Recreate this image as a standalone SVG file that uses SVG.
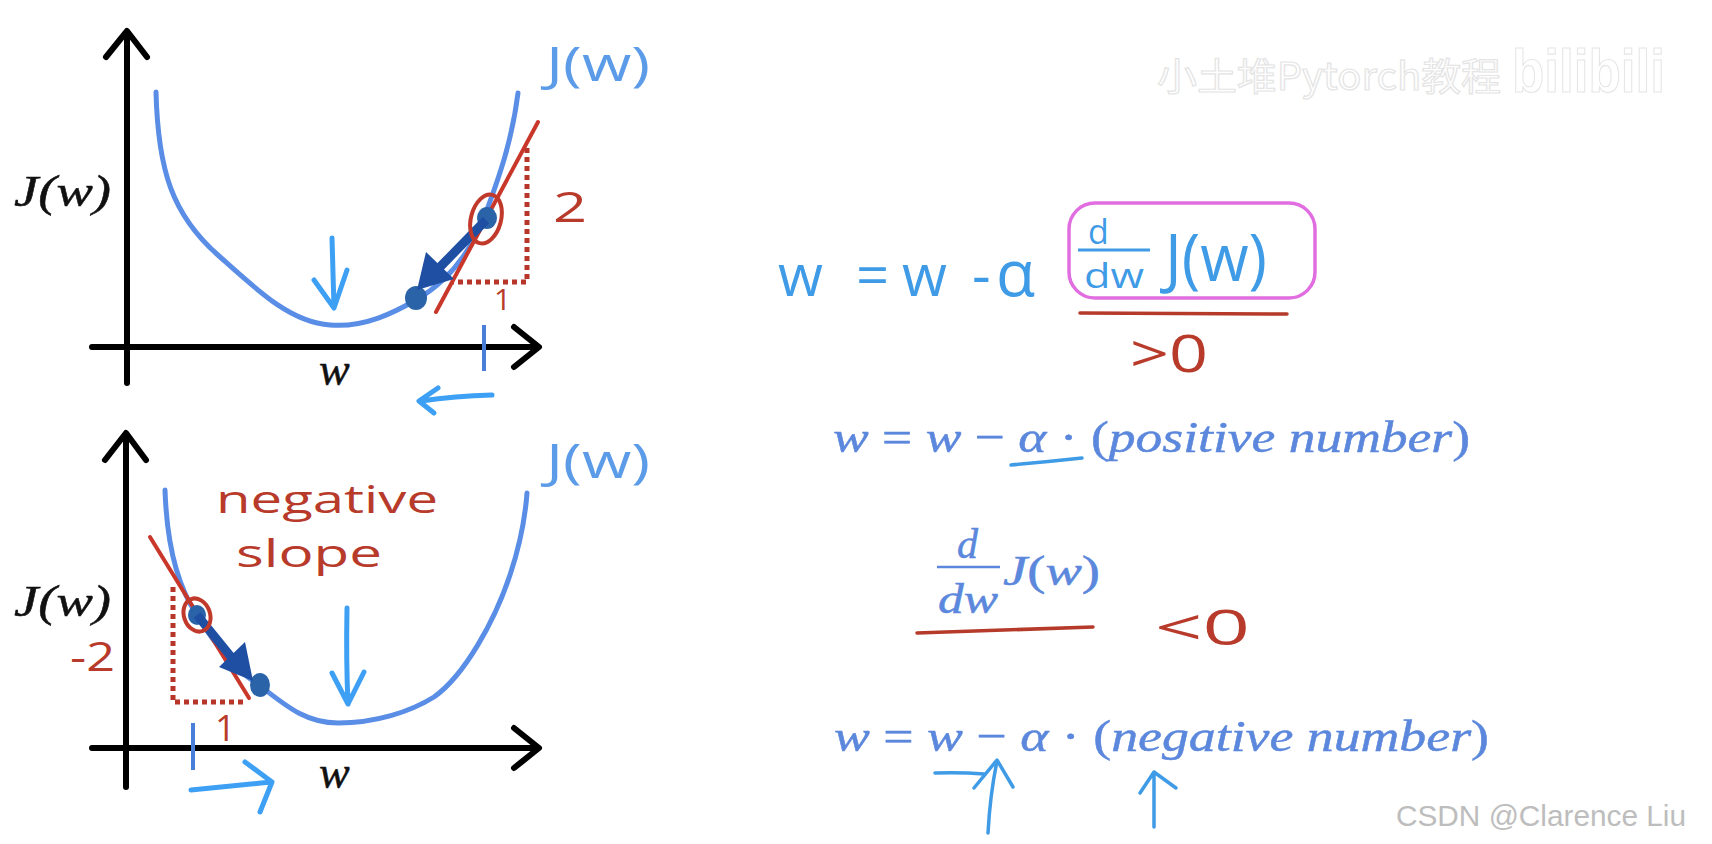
<svg xmlns="http://www.w3.org/2000/svg" width="1712" height="844" viewBox="0 0 1712 844">
<defs>
<style>
.axis{fill:none;stroke:#000;stroke-width:6;stroke-linecap:round;stroke-linejoin:round}
.curve{fill:none;stroke:#5a8de6;stroke-width:5;stroke-linecap:round}
.tan{fill:none;stroke:#c9372a;stroke-width:4;stroke-linecap:round}
.dot{fill:none;stroke:#b8352a;stroke-width:5;stroke-dasharray:5 4}
.ring{fill:none;stroke:#c0392b;stroke-width:4}
.pt{fill:#2b63a8}
.big{stroke:#1f4fa3;stroke-width:9;stroke-linecap:butt;fill:none}
.bighead{fill:#1f4fa3}
.lb{fill:none;stroke:#3ea0f4;stroke-width:5;stroke-linecap:round;stroke-linejoin:round}
.tick{stroke:#4a7fd9;stroke-width:4}
.hw{font-family:"Open Sans","DejaVu Sans",sans-serif}
.bluehw{fill:#5b9be8}
.redhw{fill:#b83a2a}
.math{font-family:"Liberation Serif",serif;font-style:italic;fill:#111;stroke:#111;stroke-width:0.5}
.tm{font-family:"Liberation Serif",serif;fill:#5b87dc;stroke:#5b87dc;stroke-width:0.5}
.fb{fill:#3f9be6}
.pen{fill:none;stroke:#3f9be6;stroke-width:3.5;stroke-linecap:round;stroke-linejoin:round}
.redline{fill:none;stroke:#b53a2a;stroke-width:3.5;stroke-linecap:round}
</style>
</defs>
<rect width="1712" height="844" fill="#ffffff"/>

<!-- watermark -->
<g id="watermark">
<text x="1157" y="90" font-family="'Noto Sans CJK SC',sans-serif" font-size="38" fill="#ffffff" stroke="#e4e4e4" stroke-width="1.2" textLength="344" lengthAdjust="spacingAndGlyphs">小土堆Pytorch教程</text>
<text x="1512" y="92" font-family="'Liberation Sans',sans-serif" font-weight="bold" font-size="62" fill="#ffffff" stroke="#e6e6e6" stroke-width="1.2" textLength="153" lengthAdjust="spacingAndGlyphs">bilibili</text>
<text x="1396" y="826" font-family="'Liberation Sans',sans-serif" font-size="30" fill="#bdbdbd" textLength="290" lengthAdjust="spacingAndGlyphs">CSDN @Clarence Liu</text>
</g>

<!-- top graph -->
<g id="top-graph">
<path class="axis" d="M127,383 L127,32 M106,57 L127,31 L147,57"/>
<path class="axis" d="M92,347 L538,347 M514,327 L539,347 L514,367"/>
<path class="curve" d="M156,92 C158,170 172,215 219,256 C257,290 290,322 330,325 C365,328 395,312 416,300 C445,283 470,255 485,215 C500,175 512,140 518,93"/>
<line class="tick" x1="484" y1="325" x2="484" y2="371"/>
<path class="dot" d="M527,148 L527,282 L453,282"/>
<line class="tan" x1="436" y1="312" x2="538" y2="122"/>
<ellipse class="pt" cx="416" cy="298" rx="11" ry="12"/>
<ellipse class="pt" cx="487" cy="218" rx="10" ry="11"/>
<line class="big" x1="486" y1="220" x2="440" y2="267"/>
<polygon class="bighead" points="417,290 426,252 454,279"/>
<ellipse class="ring" cx="486" cy="219" rx="15" ry="25" transform="rotate(15 486 219)"/>
<path class="lb" d="M332,238 Q333,275 334,308 M314,280 L334,308 L347,270"/>
<path class="lb" d="M492,395 Q455,396 421,401 M438,388 L419,401 L434,413"/>
<text class="hw redhw" x="553" y="222" font-size="42" textLength="34" lengthAdjust="spacingAndGlyphs">2</text>
<text class="hw redhw" x="494" y="310" font-size="30">1</text>
<text class="hw bluehw" x="546" y="81" font-size="48" textLength="104" lengthAdjust="spacingAndGlyphs">J(w)</text>
<text class="math" x="14" y="206" font-size="44" textLength="97" lengthAdjust="spacingAndGlyphs">J(w)</text>
<text class="math" x="319" y="385" font-size="46">w</text>
</g>

<!-- bottom graph -->
<g id="bottom-graph">
<path class="axis" d="M126,787 L126,434 M105,460 L126,433 L146,460"/>
<path class="axis" d="M92,748 L538,748 M514,728 L539,748 L514,768"/>
<path class="curve" d="M165,490 C167,550 180,590 197,615 C215,645 235,670 259,685 C285,705 305,723 338,723 C375,723 410,712 434,697 C465,675 495,620 510,575 C520,545 525,520 527,493"/>
<line class="tick" x1="193" y1="723" x2="193" y2="770"/>
<path class="dot" d="M173,587 L173,702 L247,702"/>
<line class="tan" x1="150" y1="537" x2="249" y2="698"/>
<ellipse class="pt" cx="197" cy="615" rx="9" ry="10"/>
<ellipse class="pt" cx="260" cy="685" rx="10" ry="12"/>
<line class="big" x1="197" y1="615" x2="232" y2="658"/>
<polygon class="bighead" points="253,681 219,667 245,642"/>
<ellipse class="ring" cx="197" cy="615" rx="13" ry="17" transform="rotate(-20 197 615)"/>
<path class="lb" d="M347,608 Q346,660 348,704 M332,673 L348,704 L364,672"/>
<path class="lb" d="M191,790 Q230,786 271,782 M245,762 L272,782 L260,812"/>
<text class="hw redhw" x="70" y="671" font-size="40" textLength="45" lengthAdjust="spacingAndGlyphs">-2</text>
<text class="hw redhw" x="215" y="741" font-size="36">1</text>
<text class="hw redhw" x="216" y="513" font-size="39" textLength="222" lengthAdjust="spacingAndGlyphs">negative</text>
<text class="hw redhw" x="236" y="567" font-size="39" textLength="146" lengthAdjust="spacingAndGlyphs">slope</text>
<text class="hw bluehw" x="546" y="478" font-size="48" textLength="104" lengthAdjust="spacingAndGlyphs">J(w)</text>
<text class="math" x="14" y="616" font-size="44" textLength="97" lengthAdjust="spacingAndGlyphs">J(w)</text>
<text class="math" x="319" y="788" font-size="46">w</text>
</g>

<!-- handwritten update rule -->
<g id="update-rule">
<text class="hw fb" y="296" font-size="58"><tspan x="778">w</tspan><tspan x="856">=</tspan><tspan x="902">w</tspan><tspan x="972">-</tspan><tspan x="996" font-size="64">α</tspan></text>
<rect x="1069" y="203" width="246" height="95" rx="26" fill="none" stroke="#e06ee0" stroke-width="3.5"/>
<text class="hw fb" x="1088" y="244" font-size="34">d</text>
<line x1="1078" y1="250" x2="1150" y2="250" stroke="#3f9be6" stroke-width="3"/>
<text class="hw fb" x="1084" y="288" font-size="34" textLength="60" lengthAdjust="spacingAndGlyphs">dw</text>
<text class="hw fb" x="1165" y="281" font-size="66" textLength="102" lengthAdjust="spacingAndGlyphs">J(w)</text>
<path class="redline" d="M1080,313 L1287,314"/>
<text class="hw redhw" x="1130" y="372" font-size="52" textLength="78" lengthAdjust="spacingAndGlyphs">&gt;0</text>
</g>

<!-- positive case -->
<g id="positive-case">
<text class="tm" x="833" y="452" font-size="45" textLength="637" lengthAdjust="spacingAndGlyphs"><tspan font-style="italic">w</tspan> = <tspan font-style="italic">w</tspan> − <tspan font-style="italic">α</tspan> · (<tspan font-style="italic">positive number</tspan>)</text>
<path class="pen" d="M1011,465 Q1045,462 1082,458"/>
</g>

<!-- derivative negative -->
<g id="derivative-negative">
<text class="tm" x="957" y="558" font-size="42" font-style="italic">d</text>
<line x1="937" y1="567" x2="1000" y2="567" stroke="#5b87dc" stroke-width="2.5"/>
<text class="tm" x="938" y="613" font-size="42" font-style="italic" textLength="60" lengthAdjust="spacingAndGlyphs">dw</text>
<text class="tm" x="1003" y="585" font-size="42" textLength="97" lengthAdjust="spacingAndGlyphs"><tspan font-style="italic">J</tspan>(<tspan font-style="italic">w</tspan>)</text>
<path class="redline" d="M917,633 Q1000,630 1093,627"/>
<text class="hw redhw" x="1155" y="645" font-size="50" textLength="95" lengthAdjust="spacingAndGlyphs">&lt;0</text>
</g>

<!-- negative case -->
<g id="negative-case">
<text class="tm" x="834" y="751" font-size="45" textLength="655" lengthAdjust="spacingAndGlyphs"><tspan font-style="italic">w</tspan> = <tspan font-style="italic">w</tspan> − <tspan font-style="italic">α</tspan> · (<tspan font-style="italic">negative number</tspan>)</text>
<path class="pen" d="M935,773 Q960,772 984,774"/>
<path class="pen" d="M988,833 Q990,795 997,761 M974,788 L997,760 L1013,787"/>
<path class="pen" d="M1154,827 L1154,772 M1140,793 L1154,772 L1176,788"/>
</g>
</svg>
